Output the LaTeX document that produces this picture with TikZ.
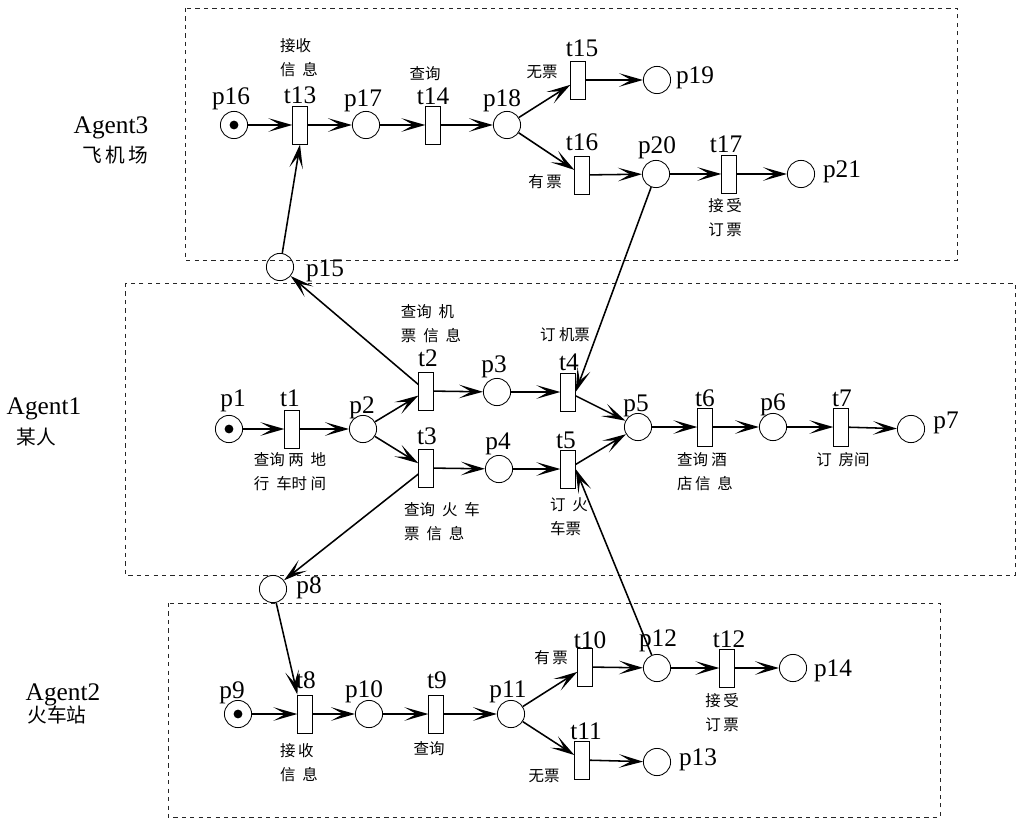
\documentclass[tikz,border=0pt]{standalone}
\usepackage{fontspec}
\setmainfont{Liberation Serif}
\newfontfamily\cjk{Noto Sans CJK SC}
\usepackage{tikz}
\usetikzlibrary{arrows.meta}

\begin{document}
\begin{tikzpicture}[
        x=0.025cm, y=-0.025cm,
        place_node/.style={draw, circle, minimum size=0.68cm, inner sep=0pt, line width=0.6pt},
        token_dot/.style={fill, circle, minimum size=0.22cm, inner sep=0pt},
        trans_block/.style={draw, rectangle, minimum width=0.36cm, minimum height=0.95cm, inner sep=0pt, line width=0.6pt},
        agent_box/.style={dashed, line width=0.6pt, draw=black!85},
        arrow/.style={arrows={-{Stealth[length=6mm, width=3.4mm, inset=3mm]}}, line width=1.1pt},
        name_text/.style={font=\fontsize{18}{20}\selectfont, inner sep=0pt},
        cn_text/.style={font=\cjk\fontsize{11}{17}\selectfont, align=left, inner sep=0pt},
        agent_text/.style={font=\fontsize{18}{20}\selectfont, inner sep=0pt}
    ]
        \useasboundingbox (0,0) rectangle (1016,819);

        % Agent3 container
        \draw[agent_box] (185,8) rectangle (957,260);
        \node (agent3) at (111,128) [agent_text] {Agent3};
        \node (agent3_cn) at (115,155) [cn_text, font=\cjk\fontsize{14}{16}\selectfont] {飞\,机\,场};

        \node (p16) at (234,125) [place_node] {};
        \node (tok16) at (p16) [token_dot] {};
        \node (t13) at (300,125) [trans_block] {};
        \node (p17) at (366,125) [place_node] {};
        \node (t14) at (433,125) [trans_block] {};
        \node (p18) at (507,125) [place_node] {};
        \node (t15) at (578,80) [trans_block] {};
        \node (p19) at (657,80) [place_node] {};
        \node (t16) at (582,175) [trans_block] {};
        \node (p20) at (656,174) [place_node] {};
        \node (t17) at (729,174) [trans_block] {};
        \node (p21) at (801,174) [place_node] {};
        \node (p15) at (280,267) [place_node] {};

        \node (lbl_p16) at (231,99) [name_text] {p16};
        \node (lbl_t13) at (300,95) [name_text] {t13};
        \node (lbl_p17) at (363,101) [name_text] {p17};
        \node (lbl_t14) at (433,96) [name_text] {t14};
        \node (lbl_p18) at (502,101) [name_text] {p18};
        \node (lbl_t15) at (582,48) [name_text] {t15};
        \node (lbl_p19) at (695,78) [name_text] {p19};
        \node (lbl_t16) at (582,142) [name_text] {t16};
        \node (lbl_p20) at (657,148) [name_text] {p20};
        \node (lbl_t17) at (726,144) [name_text] {t17};
        \node (lbl_p21) at (842,172) [name_text] {p21};
        \node (lbl_p15) at (325,271) [name_text] {p15};

        \node (cn_t13) at (299,58) [cn_text] {接收\\信\ \ 息};
        \node (cn_t14) at (425,74) [cn_text] {查询};
        \node (cn_t15) at (542,72) [cn_text] {无票};
        \node (cn_t16) at (545,182) [cn_text] {有\,票};
        \node (cn_t17) at (725,218) [cn_text] {接\,受\\订\,票};

        % Agent1 container
        \draw[agent_box] (125,283) rectangle (1015,575);
        \node (agent1) at (44,409) [agent_text] {Agent1};
        \node (agent1_cn) at (36,437) [cn_text, font=\cjk\fontsize{14}{16}\selectfont] {某人};

        \node (p1) at (229,429) [place_node] {};
        \node (tok1) at (p1) [token_dot] {};
        \node (t1) at (292,429) [trans_block] {};
        \node (p2) at (363,429) [place_node] {};
        \node (t2) at (426,391) [trans_block] {};
        \node (p3) at (497,392) [place_node] {};
        \node (t3) at (426,468) [trans_block] {};
        \node (p4) at (499,469) [place_node] {};
        \node (t4) at (568,392) [trans_block] {};
        \node (t5) at (568,469) [trans_block] {};
        \node (p5) at (638,427) [place_node] {};
        \node (t6) at (705,427) [trans_block] {};
        \node (p6) at (773,427) [place_node] {};
        \node (t7) at (841,427) [trans_block] {};
        \node (p7) at (911,429) [place_node] {};
        \node (p8) at (273,589) [place_node] {};

        \node (lbl_p1) at (233,401) [name_text] {p1};
        \node (lbl_t1) at (290,398) [name_text] {t1};
        \node (lbl_p2) at (362,408) [name_text] {p2};
        \node (lbl_t2) at (428,358) [name_text] {t2};
        \node (lbl_p3) at (494,367) [name_text] {p3};
        \node (lbl_t3) at (427,436) [name_text] {t3};
        \node (lbl_p4) at (498,444) [name_text] {p4};
        \node (lbl_t4) at (569,362) [name_text] {t4};
        \node (lbl_t5) at (566,440) [name_text] {t5};
        \node (lbl_p5) at (636,406) [name_text] {p5};
        \node (lbl_t6) at (705,398) [name_text] {t6};
        \node (lbl_p6) at (773,405) [name_text] {p6};
        \node (lbl_t7) at (842,398) [name_text] {t7};
        \node (lbl_p7) at (946,423) [name_text] {p7};
        \node (lbl_p8) at (309,588) [name_text] {p8};

        \node (cn_t1) at (290,472) [cn_text] {查询\ 两\ \ 地\\行\ \ 车时\ 间};
        \node (cn_t2) at (431,324) [cn_text] {查询\ \ 机\\票\ \ 信\ \ 息};
        \node (cn_t3) at (442,522) [cn_text] {查询\ \ 火\ \ 车\\票\ \ 信\ \ 息};
        \node (cn_t4) at (565,335) [cn_text] {订\ 机票};
        \node (cn_t5) at (569,517) [cn_text] {订\ \ 火\\车票};
        \node (cn_t6) at (705,472) [cn_text] {查询\ 酒\\店\,信\ \ 息};
        \node (cn_t7) at (843,460) [cn_text] {订\ \ 房间};

        % Agent2 container
        \draw[agent_box] (168,603) rectangle (940,817);
        \node (agent2) at (63,695) [agent_text] {Agent2};
        \node (agent2_cn) at (57,715) [cn_text, font=\cjk\fontsize{14}{16}\selectfont] {火车站};

        \node (p9) at (238,714) [place_node] {};
        \node (tok9) at (p9) [token_dot] {};
        \node (t8) at (305,714) [trans_block] {};
        \node (p10) at (369,714) [place_node] {};
        \node (t9) at (436,714) [trans_block] {};
        \node (p11) at (511,714) [place_node] {};
        \node (t10) at (585,667) [trans_block] {};
        \node (p12) at (657,668) [place_node] {};
        \node (t12) at (727,668) [trans_block] {};
        \node (p14) at (793,668) [place_node] {};
        \node (t11) at (582,760) [trans_block] {};
        \node (p13) at (657,762) [place_node] {};

        \node (lbl_p9) at (232,693) [name_text] {p9};
        \node (lbl_t8) at (306,680) [name_text] {t8};
        \node (lbl_p10) at (364,692) [name_text] {p10};
        \node (lbl_t9) at (437,680) [name_text] {t9};
        \node (lbl_p11) at (508,692) [name_text] {p11};
        \node (lbl_t10) at (590,640) [name_text] {t10};
        \node (lbl_p12) at (658,641) [name_text] {p12};
        \node (lbl_t12) at (729,639) [name_text] {t12};
        \node (lbl_p14) at (833,671) [name_text] {p14};
        \node (lbl_t11) at (586,731) [name_text] {t11};
        \node (lbl_p13) at (698,760) [name_text] {p13};

        \node (cn_t8) at (299,763) [cn_text] {接\,收\\信\ \ 息};
        \node (cn_t9) at (429,749) [cn_text] {查询};
        \node (cn_t10) at (551,658) [cn_text] {有\,票};
        \node (cn_t11) at (544,776) [cn_text] {无票};
        \node (cn_t12) at (722,713) [cn_text] {接\,受\\订\,票};

        % Connections inside Agent3
        \draw [arrow] (p16) -- (t13);
        \draw [arrow] (t13) -- (p17);
        \draw [arrow] (p17) -- (t14);
        \draw [arrow] (t14) -- (p18);
        \draw [arrow] (p18) -- (t15);
        \draw [arrow] (p18) -- (t16);
        \draw [arrow] (t15) -- (p19);
        \draw [arrow] (t16) -- (p20);
        \draw [arrow] (p20) -- (t17);
        \draw [arrow] (t17) -- (p21);

        % Connections inside Agent1
        \draw [arrow] (p1) -- (t1);
        \draw [arrow] (t1) -- (p2);
        \draw [arrow] (p2) -- (t2);
        \draw [arrow] (p2) -- (t3);
        \draw [arrow] (t2) -- (p3);
        \draw [arrow] (t3) -- (p4);
        \draw [arrow] (p3) -- (t4);
        \draw [arrow] (p4) -- (t5);
        \draw [arrow] (t4) -- (p5);
        \draw [arrow] (t5) -- (p5);
        \draw [arrow] (p5) -- (t6);
        \draw [arrow] (t6) -- (p6);
        \draw [arrow] (p6) -- (t7);
        \draw [arrow] (t7) -- (p7);

        % Connections inside Agent2
        \draw [arrow] (p9) -- (t8);
        \draw [arrow] (t8) -- (p10);
        \draw [arrow] (p10) -- (t9);
        \draw [arrow] (t9) -- (p11);
        \draw [arrow] (p11) -- (t10);
        \draw [arrow] (p11) -- (t11);
        \draw [arrow] (t10) -- (p12);
        \draw [arrow] (p12) -- (t12);
        \draw [arrow] (t12) -- (p14);
        \draw [arrow] (t11) -- (p13);

        % Messages between agents
        \draw [arrow] (t2) -- (p15);
        \draw [arrow] (p15) -- (t13.south);
        \draw [arrow] (p20) -- (t4.east);
        \draw [arrow] (t3) -- (p8);
        \draw [arrow] (p8) -- (t8.north west);
        \draw [arrow] (p12) -- (t5.east);

    \end{tikzpicture}
\end{document}
